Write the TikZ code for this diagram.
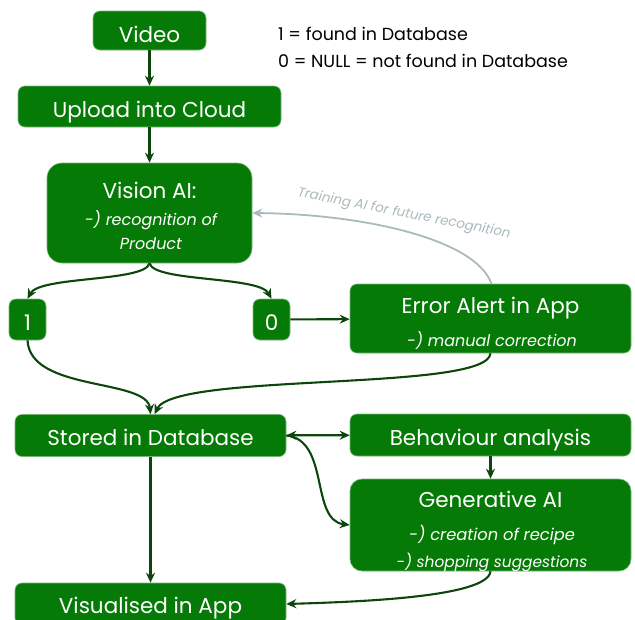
\documentclass[tikz,border=0pt]{standalone}
\usepackage{fontspec}
\setmainfont{Poppins}
\usetikzlibrary{arrows.meta}
\definecolor{boxgreen}{RGB}{6,122,6}
\definecolor{linkgreen}{RGB}{12,70,12}
\definecolor{traingray}{RGB}{170,186,188}
\tikzset{
  stepbox/.style={draw=boxgreen!55!white, line width=0.6pt, fill=boxgreen,
    rounded corners=7pt, inner sep=0pt},
  title/.style={anchor=base, text=white, inner sep=0pt,
    font=\fontsize{21.5}{24}\selectfont},
  sub/.style={anchor=base, text=white, inner sep=0pt,
    font=\fontsize{16}{18}\selectfont\itshape},
  link/.style={draw=linkgreen, line width=2.1pt,
    -{Stealth[length=10pt,width=9pt]}},
  trainlink/.style={draw=traingray, line width=1.8pt,
    -{Stealth[length=10pt,width=9pt]}},
}
\begin{document}
\begin{tikzpicture}[x=1pt,y=-1pt]
\useasboundingbox (0,0) rectangle (635,619);

% boxes
\node[stepbox, minimum width=113pt, minimum height=39pt] (video) at (149.5,30.5) {};
\node[stepbox, minimum width=263pt, minimum height=41pt] (upload) at (149.5,106.5) {};
\node[stepbox, rounded corners=15pt, minimum width=205pt, minimum height=100pt] (vision) at (149.5,213) {};
\node[stepbox, minimum width=37pt, minimum height=41pt] (one) at (27.5,319.5) {};
\node[stepbox, minimum width=37pt, minimum height=41pt] (zero) at (271.5,319.5) {};
\node[stepbox, minimum width=281pt, minimum height=69pt] (error) at (490.5,318.5) {};
\node[stepbox, minimum width=271pt, minimum height=42pt] (stored) at (150.5,435.5) {};
\node[stepbox, minimum width=281pt, minimum height=42pt] (behav) at (490.5,435) {};
\node[stepbox, rounded corners=12pt, minimum width=281pt, minimum height=92pt] (genai) at (490.5,525) {};
\node[stepbox, minimum width=271pt, minimum height=42pt] (visual) at (150.5,604) {};

% box texts
\node[title] (videotxt) at (149.5,42) {Video};
\node[title] (uploadtxt) at (149.5,117) {Upload into Cloud};
\node[title] (visiontxt) at (149.5,198) {Vision AI:};
\node[sub] (visionsub1) at (151,225) {-) recognition of};
\node[sub] (visionsub2) at (151,249) {Product};
\node[title] (onetxt) at (27.5,330) {1};
\node[title] (zerotxt) at (271.5,330) {0};
\node[title] (errortxt) at (490.5,313) {Error Alert in App};
\node[sub] (errorsub) at (492,346) {-) manual correction};
\node[title] (storedtxt) at (150.5,445) {Stored in Database};
\node[title] (behavtxt) at (490.5,445) {Behaviour analysis};
\node[title] (genaitxt) at (490.5,507) {Generative AI};
\node[sub, font=\fontsize{16.3}{18}\selectfont\itshape] (genaisub1) at (492,540) {-) creation of recipe};
\node[sub, font=\fontsize{15.4}{18}\selectfont\itshape] (genaisub2) at (492,567) {-) shopping suggestions};
\node[title] (visualtxt) at (150.5,613) {Visualised in App};

% legend
\node[anchor=base west, inner sep=0pt, font=\fontsize{17.5}{20}\selectfont] (legend1) at (278,40)
  {1 = found in Database};
\node[anchor=base west, inner sep=0pt, font=\fontsize{17.5}{20}\selectfont] (legend0) at (278,67)
  {0 = NULL = not found in Database};

% connectors
\draw[link] (video) -- (upload);
\draw[link] (upload) -- (vision);
\draw[link] (vision.south) .. controls (145,282) and (40,276) .. (one.north);
\draw[link] (vision.south) .. controls (154,282) and (259,276) .. (zero.north);
\draw[link] (zero) -- (error);
\draw[link] (one.south) .. controls (30,392) and (147,378) .. (stored.north);
\draw[link] (error.south) .. controls (488,392) and (175,372) .. ([xshift=4pt]stored.north);
\draw[link, {Stealth[length=10pt,width=9pt]}-{Stealth[length=10pt,width=9pt]}] (stored) -- (behav);
\draw[link] (stored.east) .. controls (330,440) and (310,520) .. (genai.west);
\draw[link] (behav) -- (genai);
\draw[link] (stored) -- (visual);
\draw[link] (genai.south) .. controls (488,598) and (350,602) .. (visual.east);

% feedback into the recognition model
\draw[trainlink] ([xshift=1pt]error.north) .. controls (475,238) and (360,214) .. (vision.east);
\node[text=traingray, font=\fontsize{13.4}{15}\selectfont\itshape, rotate=-11] (trainlabel) at (404,214)
  {Training AI for future recognition};
\end{tikzpicture}
\end{document}
